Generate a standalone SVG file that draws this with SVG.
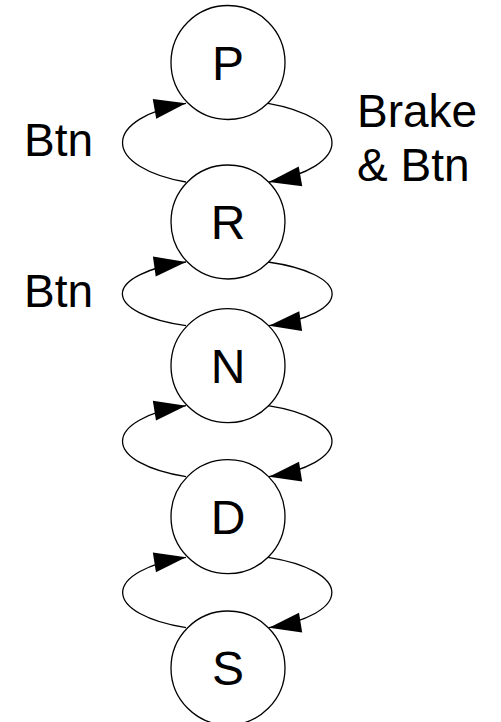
<svg xmlns="http://www.w3.org/2000/svg" width="501" height="722" viewBox="0 0 501 722">
<style>
.node circle{fill:#fff;stroke:#000;stroke-width:1.3}
.node text{font-family:"Liberation Sans",Arial,sans-serif;font-size:48px;text-anchor:middle;fill:#000}
.lbl{font-family:"Liberation Sans",Arial,sans-serif;font-size:46px;fill:#000}
.edges path{fill:none;stroke:#000;stroke-width:1.3;marker-end:url(#ah)}
</style>
<defs>
<marker id="ah" markerUnits="userSpaceOnUse" markerWidth="32" markerHeight="20" refX="32" refY="10" orient="auto" overflow="visible">
<path d="M0,0 L32,10 L0,20 z" fill="#000"/>
</marker>
</defs>
<rect width="501" height="722" fill="#fff"/>
<g class="edges">
<path d="M186,182 A105.5,42.9 0 0 1 186,103.3"/>
<path d="M268,103.3 A105.5,42.9 0 0 1 269,182"/>
<path d="M186,325.7 A105.5,34.7 0 0 1 186,262"/>
<path d="M268,262 A105.5,34.7 0 0 1 269,325.7"/>
<path d="M186,476.7 A105.5,38.7 0 0 1 186,405.7"/>
<path d="M268,405.7 A105.5,38.7 0 0 1 269,476.7"/>
<path d="M186,627.7 A105.5,38.4 0 0 1 186,557.3"/>
<path d="M268,557.3 A105.5,38.4 0 0 1 269,627.7"/>
</g>
<g id="P" class="node"><circle cx="228" cy="62.5" r="57"/><text x="228" y="80">P</text></g>
<g id="R" class="node"><circle cx="228" cy="222" r="57"/><text x="228" y="239.3">R</text></g>
<g id="N" class="node"><circle cx="228" cy="365.7" r="57"/><text x="228" y="382.5">N</text></g>
<g id="D" class="node"><circle cx="228" cy="516.7" r="57"/><text x="228" y="534">D</text></g>
<g id="S" class="node"><circle cx="228" cy="668" r="57"/><text x="228" y="685">S</text></g>
<g id="labels">
<text class="lbl" x="24" y="156">Btn</text>
<text class="lbl" x="24" y="307">Btn</text>
<text class="lbl" x="357" y="127">Brake</text>
<text class="lbl" x="357" y="181">&amp; Btn</text>
</g>
</svg>
